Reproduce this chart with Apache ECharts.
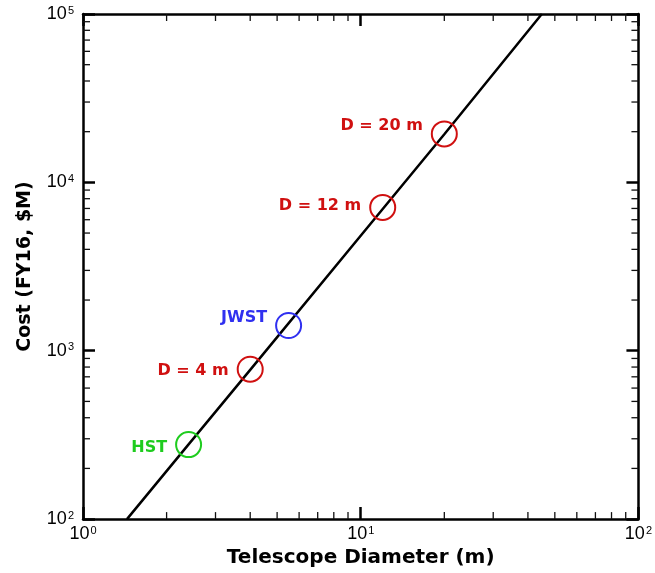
<!DOCTYPE html>
<html>
<head>
<meta charset="utf-8">
<script src="https://cdn.jsdelivr.net/npm/echarts@6/dist/echarts.min.js"></script>
<style>
html,body{margin:0;padding:0;background:#fff;}
#chart{width:655px;height:573px;}
</style>
</head>
<body>
<div id="chart"></div>
<script>
// ---- data ----
const lineDiameter = [1.44, 2.4, 4, 12, 20, 44.9];
const lineCost = [100, 278, 770, 6950, 19300, 100000];

const pointNames = ['HST', 'D = 4 m', 'JWST', 'D = 12 m', 'D = 20 m'];
const pointDiameter = [2.4, 4.0, 5.5, 12.0, 20.0];
const pointCost = [277, 777, 1412, 7100, 19400];
const pointGroup = ['HST', 'concept', 'JWST', 'concept', 'concept'];

const xMin = 1, xMax = 100;
const yMin = 100, yMax = 100000;
const xMinorTicks = [2, 3, 4, 5, 6, 7, 8, 9, 20, 30, 40, 50, 60, 70, 80, 90];
const yMinorTicks = [200, 300, 400, 500, 600, 700, 800, 900,
                     2000, 3000, 4000, 5000, 6000, 7000, 8000, 9000,
                     20000, 30000, 40000, 50000, 60000, 70000, 80000, 90000];

const xTitle = 'Telescope Diameter (m)';
const yTitle = 'Cost (FY16, $M)';

// ---- styling ----
const groupColor = { HST: '#1fcc1f', JWST: '#3030f0', concept: '#d01010' };
const labelShift = { 'HST': 3, 'D = 4 m': 2, 'JWST': -8, 'D = 12 m': -2, 'D = 20 m': -8 };

const chart = echarts.init(document.getElementById('chart'), null, { renderer: 'canvas' });

const expLabel = function (v) {
  const e = Math.round(Math.log10(v));
  return '{b|10}{s|' + e + '}';
};
const richTick = {
  b: { fontSize: 18, fontFamily: 'Liberation Sans', color: '#000', lineHeight: 18 },
  s: { fontSize: 11, fontFamily: 'Liberation Sans', color: '#000', verticalAlign: 'top', lineHeight: 11, padding: [0, 0, 0, 1] }
};
const axLine = { show: true, onZero: false, lineStyle: { color: '#000', width: 2.5 } };
const axTick = { show: true, inside: true, length: 12, lineStyle: { color: '#000', width: 2.5 } };

const minorData = [];
xMinorTicks.forEach(v => minorData.push([v, yMin, 0]));
yMinorTicks.forEach(v => minorData.push([xMin, v, 1]));

const pointData = pointNames.map((n, i) => ({
  name: n,
  value: [pointDiameter[i], pointCost[i]],
  itemStyle: { color: 'rgba(255,255,255,0)', borderColor: groupColor[pointGroup[i]], borderWidth: 2, opacity: 1 },
  label: { color: groupColor[pointGroup[i]], offset: [0, labelShift[n]] }
}));

const option = {
  animation: false,
  backgroundColor: '#fff',
  grid: { left: 83, right: 15, top: 14, bottom: 50, containLabel: false },
  xAxis: [
    {
      type: 'log', logBase: 10, min: xMin, max: xMax, interval: 1, position: 'bottom',
      axisLine: axLine, axisTick: axTick, splitLine: { show: false }, minorTick: { show: false },
      axisLabel: { formatter: expLabel, rich: richTick, margin: 6 },
      name: xTitle, nameLocation: 'middle', nameGap: 21,
      nameTextStyle: { fontFamily: 'DejaVu Sans', fontWeight: 'bold', fontSize: 20, color: '#000' }
    },
    {
      type: 'log', logBase: 10, min: xMin, max: xMax, interval: 1, position: 'top',
      axisLine: axLine, axisTick: axTick, splitLine: { show: false }, axisLabel: { show: false }
    }
  ],
  yAxis: [
    {
      type: 'log', logBase: 10, min: yMin, max: yMax, interval: 1, position: 'left',
      axisLine: axLine, axisTick: axTick, splitLine: { show: false }, minorTick: { show: false },
      axisLabel: { formatter: expLabel, rich: richTick, margin: 9 },
      name: yTitle, nameLocation: 'middle', nameGap: 48, nameRotate: 90,
      nameTextStyle: { fontFamily: 'DejaVu Sans', fontWeight: 'bold', fontSize: 19, color: '#000' }
    },
    {
      type: 'log', logBase: 10, min: yMin, max: yMax, interval: 1, position: 'right',
      axisLine: axLine, axisTick: axTick, splitLine: { show: false }, axisLabel: { show: false }
    }
  ],
  series: [
    {
      type: 'custom', xAxisIndex: 0, yAxisIndex: 0, silent: true, clip: false, z: 5,
      encode: { x: 0, y: 1 },
      data: minorData,
      renderItem: function (params, api) {
        const kind = api.value(2);
        const L = 7;
        const st = { stroke: '#111', lineWidth: 1.3 };
        if (kind === 0) {
          const v = api.value(0);
          const pb = api.coord([v, yMin]);
          const pt = api.coord([v, yMax]);
          return { type: 'group', children: [
            { type: 'line', shape: { x1: pb[0], y1: pb[1], x2: pb[0], y2: pb[1] - L }, style: st },
            { type: 'line', shape: { x1: pt[0], y1: pt[1], x2: pt[0], y2: pt[1] + L }, style: st }
          ]};
        } else {
          const v = api.value(1);
          const pl = api.coord([xMin, v]);
          const pr = api.coord([xMax, v]);
          return { type: 'group', children: [
            { type: 'line', shape: { x1: pl[0], y1: pl[1], x2: pl[0] + L, y2: pl[1] }, style: st },
            { type: 'line', shape: { x1: pr[0], y1: pr[1], x2: pr[0] - L, y2: pr[1] }, style: st }
          ]};
        }
      }
    },
    {
      type: 'line', xAxisIndex: 0, yAxisIndex: 0, silent: true,
      data: lineDiameter.map((d, i) => [d, lineCost[i]]),
      showSymbol: false, symbol: 'none',
      lineStyle: { color: '#000', width: 2.5 }, z: 3
    },
    {
      type: 'scatter', xAxisIndex: 0, yAxisIndex: 0, silent: true,
      symbol: 'circle', symbolSize: 25, z: 4,
      itemStyle: { opacity: 1 },
      label: {
        show: true, position: 'left', distance: 8,
        formatter: '{b}',
        fontFamily: 'DejaVu Sans', fontWeight: 'bold', fontSize: 16
      },
      data: pointData
    }
  ]
};
chart.setOption(option);
</script>
</body>
</html>
